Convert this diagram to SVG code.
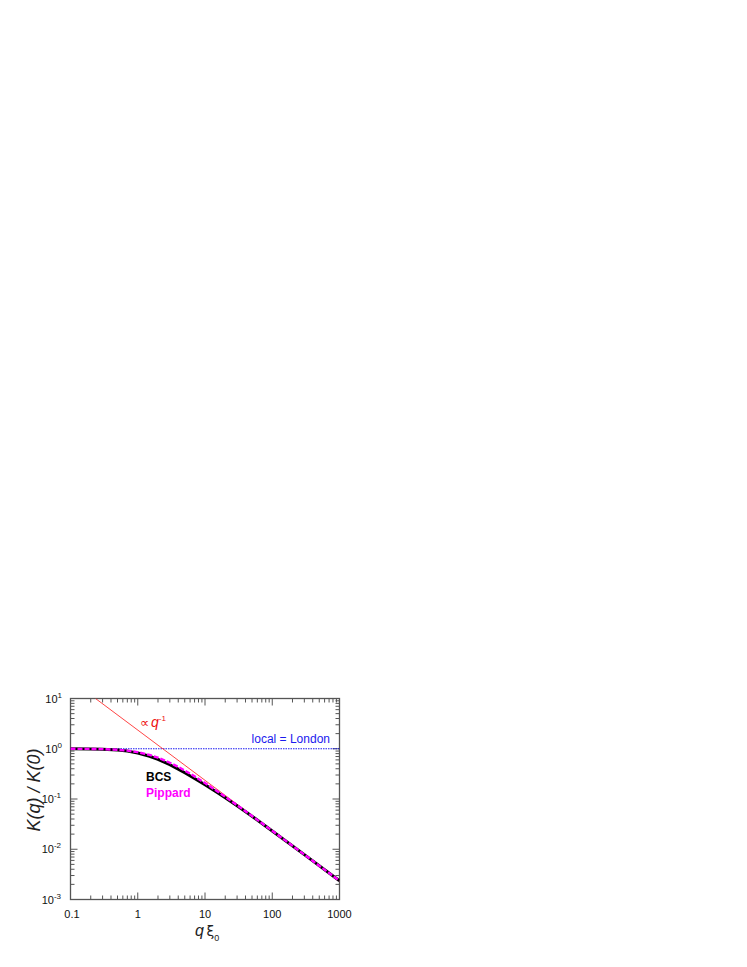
<svg xmlns="http://www.w3.org/2000/svg" width="747" height="967" viewBox="0 0 747 967">
<style>
.frame{fill:none;stroke:#555;stroke-width:1.3}
.tick{fill:none;stroke:#555;stroke-width:1}
.tl{font-family:"Liberation Sans",Arial,sans-serif;font-size:11px;fill:#111}
.sup{font-size:8px}
.lab{font-family:"Liberation Sans",Arial,sans-serif;fill:#222}
</style>
<defs>
<clipPath id="plot"><rect x="70.5" y="698.5" width="269" height="201"/></clipPath>
</defs>
<rect width="747" height="967" fill="#fff"/>
<g id="axes">
<path class="tick" d="M90.74 899.5v-4M102.59 899.5v-4M110.99 899.5v-4M117.51 899.5v-4M122.83 899.5v-4M127.33 899.5v-4M131.23 899.5v-4M134.67 899.5v-4M157.99 899.5v-4M169.84 899.5v-4M178.24 899.5v-4M184.76 899.5v-4M190.08 899.5v-4M194.58 899.5v-4M198.48 899.5v-4M201.92 899.5v-4M225.24 899.5v-4M237.09 899.5v-4M245.49 899.5v-4M252.01 899.5v-4M257.33 899.5v-4M261.83 899.5v-4M265.73 899.5v-4M269.17 899.5v-4M292.49 899.5v-4M304.34 899.5v-4M312.74 899.5v-4M319.26 899.5v-4M324.58 899.5v-4M329.08 899.5v-4M332.98 899.5v-4M336.42 899.5v-4M137.75 899.5v-7M205 899.5v-7M272.25 899.5v-7"/>
<path class="tick" d="M90.74 698.5v4M102.59 698.5v4M110.99 698.5v4M117.51 698.5v4M122.83 698.5v4M127.33 698.5v4M131.23 698.5v4M134.67 698.5v4M157.99 698.5v4M169.84 698.5v4M178.24 698.5v4M184.76 698.5v4M190.08 698.5v4M194.58 698.5v4M198.48 698.5v4M201.92 698.5v4M225.24 698.5v4M237.09 698.5v4M245.49 698.5v4M252.01 698.5v4M257.33 698.5v4M261.83 698.5v4M265.73 698.5v4M269.17 698.5v4M292.49 698.5v4M304.34 698.5v4M312.74 698.5v4M319.26 698.5v4M324.58 698.5v4M329.08 698.5v4M332.98 698.5v4M336.42 698.5v4M137.75 698.5v7M205 698.5v7M272.25 698.5v7"/>
<path class="tick" d="M70.5 884.37h4M70.5 875.52h4M70.5 869.25h4M70.5 864.38h4M70.5 860.4h4M70.5 857.03h4M70.5 854.12h4M70.5 851.55h4M70.5 834.12h4M70.5 825.27h4M70.5 819h4M70.5 814.13h4M70.5 810.15h4M70.5 806.78h4M70.5 803.87h4M70.5 801.3h4M70.5 783.87h4M70.5 775.02h4M70.5 768.75h4M70.5 763.88h4M70.5 759.9h4M70.5 756.53h4M70.5 753.62h4M70.5 751.05h4M70.5 733.62h4M70.5 724.77h4M70.5 718.5h4M70.5 713.63h4M70.5 709.65h4M70.5 706.28h4M70.5 703.37h4M70.5 700.8h4M70.5 849.25h7M70.5 799h7M70.5 748.75h7"/>
<path class="tick" d="M339.5 884.37h-4M339.5 875.52h-4M339.5 869.25h-4M339.5 864.38h-4M339.5 860.4h-4M339.5 857.03h-4M339.5 854.12h-4M339.5 851.55h-4M339.5 834.12h-4M339.5 825.27h-4M339.5 819h-4M339.5 814.13h-4M339.5 810.15h-4M339.5 806.78h-4M339.5 803.87h-4M339.5 801.3h-4M339.5 783.87h-4M339.5 775.02h-4M339.5 768.75h-4M339.5 763.88h-4M339.5 759.9h-4M339.5 756.53h-4M339.5 753.62h-4M339.5 751.05h-4M339.5 733.62h-4M339.5 724.77h-4M339.5 718.5h-4M339.5 713.63h-4M339.5 709.65h-4M339.5 706.28h-4M339.5 703.37h-4M339.5 700.8h-4M339.5 849.25h-7M339.5 799h-7M339.5 748.75h-7"/>
<rect class="frame" x="70.5" y="698.5" width="269" height="201"/>
<g class="tl" text-anchor="middle">
<text x="72" y="918">0.1</text>
<text x="137.75" y="918">1</text>
<text x="205" y="918">10</text>
<text x="272.25" y="918">100</text>
<text x="339.5" y="918">1000</text>
</g>
<g class="tl" text-anchor="end">
<text x="62" y="702.5">10<tspan class="sup" dy="-5">1</tspan></text>
<text x="62" y="752.75">10<tspan class="sup" dy="-5">0</tspan></text>
<text x="61" y="803">10<tspan class="sup" dy="-5">-1</tspan></text>
<text x="61" y="853.25">10<tspan class="sup" dy="-5">-2</tspan></text>
<text x="61" y="903.5">10<tspan class="sup" dy="-5">-3</tspan></text>
</g>
<text class="lab" font-size="18" font-style="italic" text-anchor="middle" transform="translate(40 790) rotate(-90)">K(q) / K(0)</text>
<text class="lab" x="195" y="936" font-size="16"><tspan font-style="italic">q</tspan><tspan x="206.5" font-size="14" font-family="'DejaVu Sans',sans-serif">ξ</tspan><tspan font-size="9" dy="5">0</tspan></text>
</g>
<g id="connectors" clip-path="url(#plot)">
<path d="M70.5 748.75H339.5" fill="none" stroke="#0000ee" stroke-width="0.9" stroke-dasharray="1.5 1"/>
<path d="M95.52 698.5L339.5 880.8" fill="none" stroke="#ff3030" stroke-width="0.9"/>
<polyline id="bcs" fill="none" stroke="#000" stroke-width="3" stroke-linejoin="round" points="70.5,748.79 90.74,748.94 102.59,749.23 117.51,750.06 127.33,751.11 137.75,752.94 149.59,756.24 157.99,759.32 169.84,764.72 178.24,769.09 184.76,772.74 194.59,778.49 205,784.83 216.84,792.28 225.24,797.8 237.09,805.79 252.01,816.27 272.25,830.92 304.34,854.62 339.5,880.83"/>
<polyline id="pippard" fill="none" stroke="#ff00ff" stroke-width="2.4" stroke-dasharray="5 2" points="70.5,748.79 90.74,748.92 102.59,749.13 117.51,749.76 127.33,750.61 137.75,752.14 149.59,754.94 157.99,757.72 169.84,762.72 178.24,766.94 184.76,770.54 194.59,776.39 205,783.03 216.84,790.98 225.24,796.8 237.09,805.19 252.01,815.97 272.25,830.82 304.34,854.62 339.5,880.83"/>
</g>
<g id="labels">
<text x="140" y="726.7" font-family="'DejaVu Sans',sans-serif" font-size="13" fill="#ee1010">∝<tspan x="151" font-family="'Liberation Sans',Arial,sans-serif" font-style="italic" font-size="14">q</tspan><tspan font-family="'Liberation Sans',Arial,sans-serif" font-size="8" dy="-6">-1</tspan></text>
<text x="330" y="743.3" font-family="'Liberation Sans',Arial,sans-serif" font-size="12" fill="#1a1aee" text-anchor="end">local = London</text>
<text x="146" y="781" font-family="'Liberation Sans',Arial,sans-serif" font-size="12" font-weight="bold" fill="#000">BCS</text>
<text x="146" y="796.7" font-family="'Liberation Sans',Arial,sans-serif" font-size="12" font-weight="bold" fill="#ff00ff">Pippard</text>
</g>
</svg>
